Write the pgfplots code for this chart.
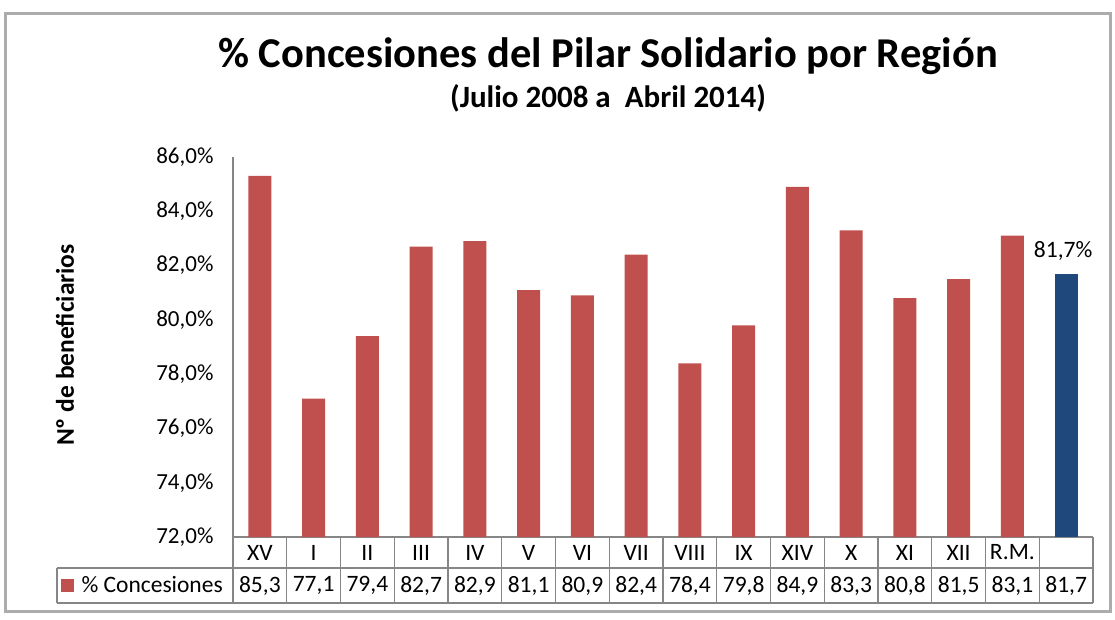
\documentclass[border=0pt]{standalone}
\usepackage{fontspec}
\setmainfont{Carlito}
\usepackage{pgfplots}
\pgfplotsset{compat=1.18}
\definecolor{barred}{HTML}{C0504D}
\definecolor{barblue}{HTML}{1F497D}
\definecolor{axgray}{HTML}{868686}
\begin{document}
\begin{tikzpicture}[x=1pt,y=1pt]
\path[use as bounding box] (0,0) rectangle (1115,619);
\draw[gray!65, line width=3pt] (5,8) rectangle (1110,605);
\begin{axis}[
  at={(233pt,82pt)}, anchor=south west, scale only axis,
  width=860pt, height=380pt,
  ymin=72, ymax=86, xmin=-0.5, xmax=15.5,
  ytick={72,74,...,86},
  yticklabel={\pgfmathprintnumber[fixed,fixed zerofill,precision=1,use comma]{\tick}\%},
  /pgf/number format/assume math mode=true,
  axis lines*=left,
  axis line style={axgray, line width=1.2pt},
  major tick length=0pt,
  ytick style={draw=none},
  xtick style={draw=none},
  xtick={0,...,15},
  xticklabels={XV,I,II,III,IV,V,VI,VII,VIII,IX,XIV,X,XI,XII,R.M.,{}},
  xticklabel style={anchor=center, yshift=-15.5pt},
  extra x ticks={0,...,15},
  extra x tick labels={{85,3},{77,1},{79,4},{82,7},{82,9},{81,1},{80,9},{82,4},{78,4},{79,8},{84,9},{83,3},{80,8},{81,5},{83,1},{81,7}},
  extra x tick style={xticklabel style={yshift=-33pt}, xtick style={draw=none}},
  tick label style={font=\fontsize{23.5}{28}\selectfont},
  yticklabel style={xshift=-16pt, font=\fontsize{23}{28}\selectfont},
  ybar, bar width=23pt,
  legend style={at={(rel axis cs:-0.2,-0.1276)}, anchor=west, draw=none, fill=none,
    font=\fontsize{23.5}{28}\selectfont, inner sep=0pt},
  legend image code/.code={\fill[barred] (0pt,-6.5pt) rectangle (13pt,6.5pt);},
]
\addplot[fill=barred, draw=none, bar shift=0pt] coordinates {
  (0,85.3) (1,77.1) (2,79.4) (3,82.7) (4,82.9) (5,81.1) (6,80.9) (7,82.4)
  (8,78.4) (9,79.8) (10,84.9) (11,83.3) (12,80.8) (13,81.5) (14,83.1)};
\addlegendentry{\ \% Concesiones}
\addplot[fill=barblue, draw=none, bar shift=0pt, forget plot,
  nodes near coords={\pgfmathprintnumber[fixed,fixed zerofill,precision=1,use comma]{\pgfplotspointmeta}\%},
  every node near coord/.append style={font=\fontsize{23.5}{28}\selectfont, text=black, yshift=10pt, xshift=-3pt}]
  coordinates {(15,81.7)};
\end{axis}
\begin{scope}[axgray, line width=1.2pt]
\draw (57,51) -- (1093,51);
\draw (57,16) -- (1093,16);
\draw (57,51) -- (57,16);
\foreach \k in {0,...,16} \draw ({233+53.75*\k},82) -- ({233+53.75*\k},16);
\end{scope}
\node[anchor=base, font=\fontsize{42.5}{48}\selectfont\bfseries] at (608,551) {\% Concesiones del Pilar Solidario por Región};
\node[anchor=base, font=\fontsize{31}{36}\selectfont\bfseries] at (608,511) {(Julio 2008 a\ \ Abril 2014)};
\node[rotate=90, font=\fontsize{25.5}{30}\selectfont\bfseries] at (65,274) {Nº de beneficiarios};
\end{tikzpicture}
\end{document}
